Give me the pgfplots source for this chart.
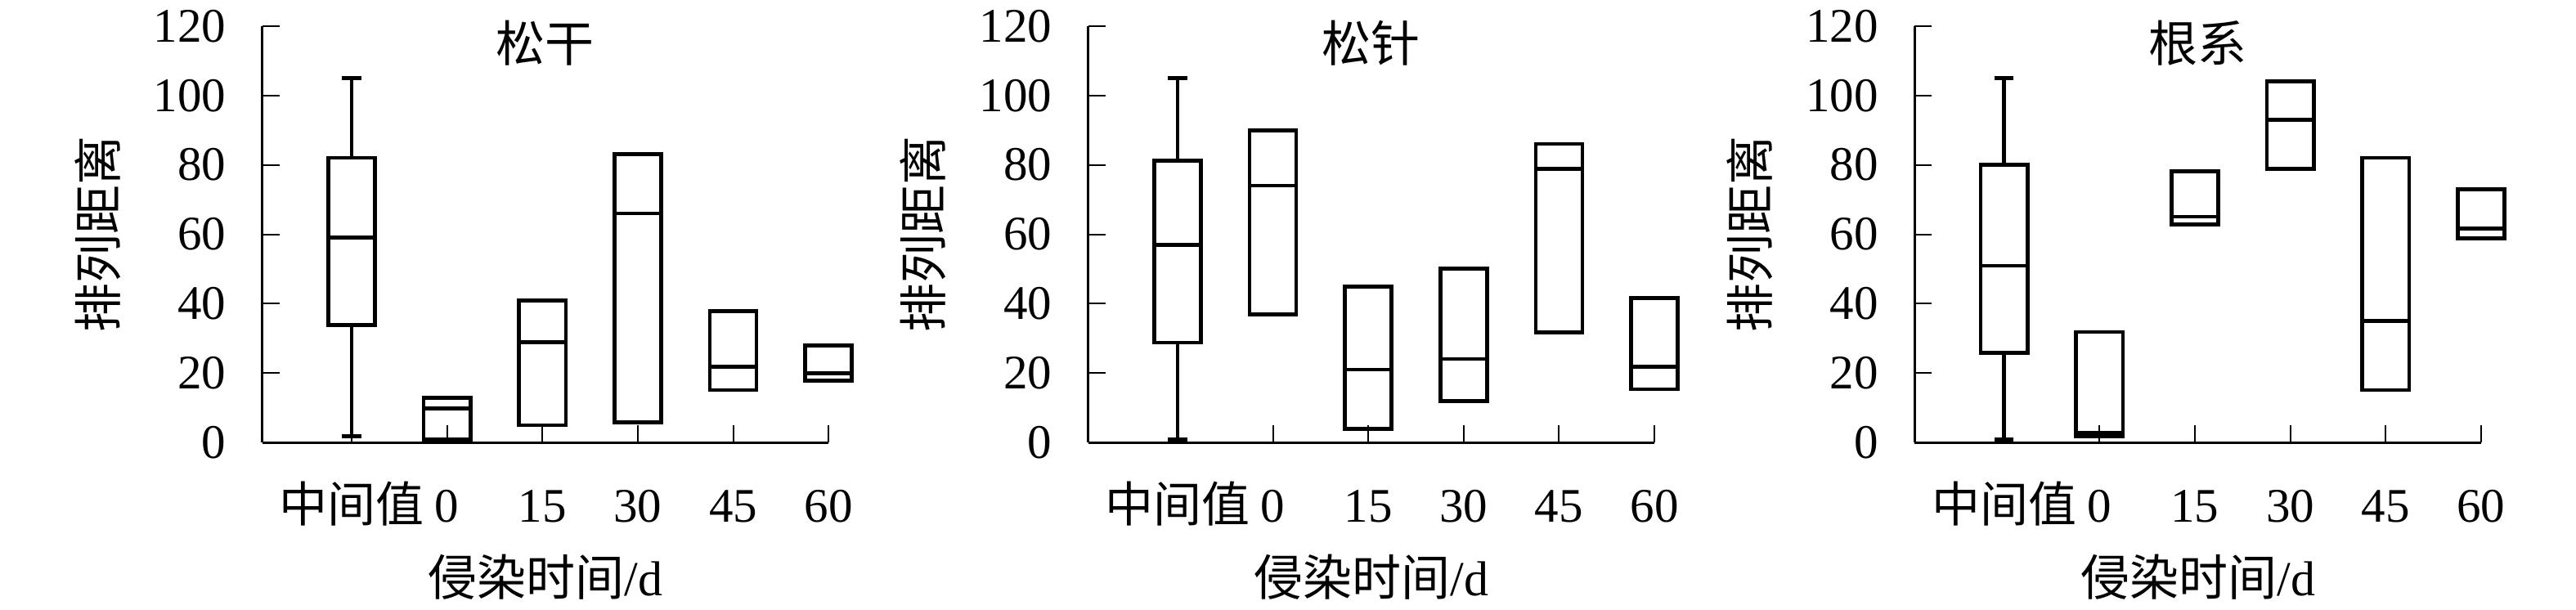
\documentclass[border=0pt]{standalone}
\usepackage{fontspec}
\setmainfont{Liberation Serif}
\newfontfamily\cjk{Noto Sans CJK SC}
\usepackage{pgfplots}
\pgfplotsset{compat=1.18}
\usepgfplotslibrary{statistics}
\pgfplotsset{
  panel/.style={
    scale only axis, width=138.5pt, height=101.9pt,
    anchor=south west,
    xmin=-0.937, xmax=5, ymin=0, ymax=120,
    axis lines=left,
    axis line style={-, line width=0.55pt, black},
    tick style={line width=0.4pt, black},
    major tick length=4.2pt, tick align=inside,
    xtick={0,1,2,3,4,5},
    xticklabels={{\cjk 中间值},0,15,30,45,60},
    ytick={0,20,40,60,80,100,120},
    clip=false,
    /pgf/number format/assume math mode=true,
    every tick label/.append style={font=\fontsize{11.8pt}{14pt}\selectfont},
    yticklabel style={anchor=east, inner sep=0pt, xshift=-8.7pt},
    xticklabel style={anchor=base, inner sep=0pt, yshift=-19.4pt},
    xlabel={{\cjk 侵染时间}/d},
    ylabel={\cjk 排列距离},
    label style={font=\fontsize{12pt}{14pt}\selectfont},
    xlabel style={at={(axis description cs:0.5,0)}, anchor=base, inner sep=0pt, yshift=-37.5pt},
    ylabel style={at={(axis description cs:-0.291,0.5)}, anchor=center, inner sep=0pt},
    every axis title shift=0pt,
    title style={at={(axis description cs:0.5,0.959)}, anchor=center, inner sep=0pt, font=\fontsize{12pt}{14pt}\selectfont\cjk},
    boxplot/draw direction=y,
    boxplot/box extend=0.49,
    boxplot/whisker extend=0.2,
  },
  bx/.style={draw=black, line width=0.93pt, solid},
}
\begin{document}
\begin{tikzpicture}
\useasboundingbox (0,0) rectangle (630pt,149.2pt);
% Panel 1
\begin{axis}[panel, at={(64.14pt,40.94pt)}, title={松干}]
\addplot[bx, boxplot prepared={draw position=0, lower whisker=1.9, lower quartile=33.9, median=59, upper quartile=82, upper whisker=105}] coordinates {};
\addplot[bx, boxplot prepared={draw position=1, lower whisker=0.9, lower quartile=0.9, median=9.9, upper quartile=12.9, upper whisker=12.9}] coordinates {};
\addplot[bx, boxplot prepared={draw position=2, lower whisker=5.0, lower quartile=5.0, median=28.9, upper quartile=41, upper whisker=41}] coordinates {};
\addplot[bx, boxplot prepared={draw position=3, lower whisker=5.9, lower quartile=5.9, median=66, upper quartile=83.1, upper whisker=83.1}] coordinates {};
\addplot[bx, boxplot prepared={draw position=4, lower whisker=15.1, lower quartile=15.1, median=21.9, upper quartile=37.8, upper whisker=37.8}] coordinates {};
\addplot[bx, boxplot prepared={draw position=5, lower whisker=17.9, lower quartile=17.9, median=20, upper quartile=28, upper whisker=28}] coordinates {};
\end{axis}
% Panel 2
\begin{axis}[panel, at={(266.12pt,40.94pt)}, title={松针}]
\addplot[bx, boxplot prepared={draw position=0, lower whisker=0.9, lower quartile=28.8, median=57, upper quartile=81.2, upper whisker=105}] coordinates {};
\addplot[bx, boxplot prepared={draw position=1, lower whisker=36.9, lower quartile=36.9, median=74, upper quartile=89.9, upper whisker=89.9}] coordinates {};
\addplot[bx, boxplot prepared={draw position=2, lower whisker=3.9, lower quartile=3.9, median=21, upper quartile=45, upper whisker=45}] coordinates {};
\addplot[bx, boxplot prepared={draw position=3, lower whisker=12, lower quartile=12, median=24.1, upper quartile=50.1, upper whisker=50.1}] coordinates {};
\addplot[bx, boxplot prepared={draw position=4, lower whisker=31.8, lower quartile=31.8, median=78.9, upper quartile=86, upper whisker=86}] coordinates {};
\addplot[bx, boxplot prepared={draw position=5, lower whisker=15.4, lower quartile=15.4, median=21.8, upper quartile=41.7, upper whisker=41.7}] coordinates {};
\end{axis}
% Panel 3
\begin{axis}[panel, at={(468.28pt,40.94pt)}, title={根系}]
\addplot[bx, boxplot prepared={draw position=0, lower whisker=0.9, lower quartile=25.8, median=50.9, upper quartile=80, upper whisker=105}] coordinates {};
\addplot[bx, boxplot prepared={draw position=1, lower whisker=1.9, lower quartile=1.9, median=2.8, upper quartile=31.9, upper whisker=31.9}] coordinates {};
\addplot[bx, boxplot prepared={draw position=2, lower whisker=62.9, lower quartile=62.9, median=65.1, upper quartile=78.1, upper whisker=78.1}] coordinates {};
\addplot[bx, boxplot prepared={draw position=3, lower whisker=78.9, lower quartile=78.9, median=93, upper quartile=104.1, upper whisker=104.1}] coordinates {};
\addplot[bx, boxplot prepared={draw position=4, lower whisker=15.1, lower quartile=15.1, median=35, upper quartile=82, upper whisker=82}] coordinates {};
\addplot[bx, boxplot prepared={draw position=5, lower whisker=58.8, lower quartile=58.8, median=61.7, upper quartile=73, upper whisker=73}] coordinates {};
\end{axis}
\end{tikzpicture}
\end{document}
